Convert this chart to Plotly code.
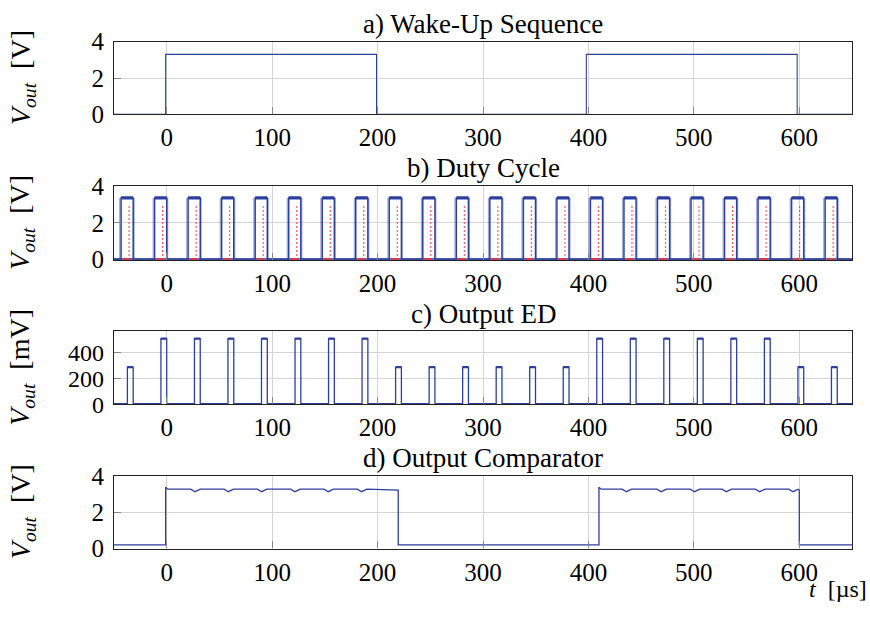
import plotly.graph_objects as go

# ---------------- data ----------------
x_range = [-50, 650]
x_ticks = [0, 100, 200, 300, 400, 500, 600]

# a) Wake-Up Sequence (t in µs, V)
wake_t = [-50, -1, -1, 199, 199, 398, 398, 598, 598, 650]
wake_v = [0, 0, 3.3, 3.3, 0, 0, 3.3, 3.3, 0, 0]

# b) Duty Cycle: rising-edge times of the pulses (µs)
duty_rise = [-43.3, -11.5, 20.3, 52.1, 83.9, 115.7, 147.5, 179.3, 211.1, 242.9, 274.7,
             306.5, 338.3, 370.1, 401.9, 433.7, 465.5, 497.3, 529.1, 560.9, 592.7, 624.5]
duty_width = 11.5      # µs
duty_high = 3.36       # V
duty_low = 0.03        # V
red_delay = 7.6        # µs after rising edge
red_top = 3.0          # V

# c) Output ED: pulse amplitudes (mV), one per duty-cycle pulse
ed_amp = [285, 505, 505, 505, 505, 505, 505, 505, 285, 285, 285, 285, 285, 285,
          505, 505, 505, 505, 505, 505, 285, 285]
ed_start = 6.0         # µs after duty rising edge
ed_stop = 11.5         # µs after duty rising edge
ed_base = 4            # mV

# d) Output Comparator
comp_edges = [-1, 219.6, 410, 600]
comp_high = 3.27
comp_low = 0.2
comp_dips = [26.8, 58.4, 90.0, 121.6, 153.2, 184.8, 436.0, 469.0, 500.6, 530.8, 562.4, 594.0]
comp_dip_v = 3.13

titles = ["a) Wake-Up Sequence", "b) Duty Cycle", "c) Output ED", "d) Output Comparator"]
y_units = ["[V]", "[V]", "[mV]", "[V]"]
y_ranges = [[0, 4], [0, 4], [0, 560], [0, 4]]
y_ticks = [[0, 2, 4], [0, 2, 4], [0, 200, 400], [0, 2, 4]]

# ---------------- styles ----------------
BLUE = "#2c3f9e"
LIGHTBLUE = "rgba(44,63,158,0.45)"
RED = "#ff2a2a"
FONT = "Liberation Serif"
FS = 25
W, H = 870, 619
px_left, px_right = 114, 852
panels_px = [(30, 106), (181, 258), (333, 409), (484, 560)]

fig = go.Figure()

def add(x, y, axis, color=BLUE, width=1.2, dash=None):
    fig.add_trace(go.Scatter(x=x, y=y, mode="lines", xaxis="x" if axis == 1 else f"x{axis}",
                             yaxis="y" if axis == 1 else f"y{axis}",
                             line=dict(color=color, width=width, dash=dash),
                             hoverinfo="skip", showlegend=False))

# a)
add(wake_t, wake_v, 1, width=1.1)

# b)
bx, by = [x_range[0]], [duty_low]
top_x, top_y, edge_x, edge_y = [], [], [], []
rx, ry, rbx, rby = [], [], [], []
for r in duty_rise:
    f = r + duty_width
    bx += [r, r, f, f]
    by += [duty_low, duty_high, duty_high, duty_low]
    top_x += [r, f, None]
    top_y += [duty_high, duty_high, None]
    edge_x += [r - 1.3, r - 1.3, None, f + 0.9, f + 0.9, None]
    edge_y += [duty_low, duty_high, None, duty_low, duty_high, None]
    m = r + red_delay
    rx += [m, m, None]
    ry += [0, red_top, None]
    rbx += [r + 1.5, m + 1, None]
    rby += [0.02, 0.02, None]
bx.append(x_range[1]); by.append(duty_low)
add(edge_x, edge_y, 2, color=LIGHTBLUE, width=1.2)
add(bx, by, 2, width=1.5)
add(top_x, top_y, 2, width=3.2)
add([x_range[0], x_range[1]], [0.02, 0.02], 2, width=2.5)
add(rx, ry, 2, color=RED, width=1.2, dash="1.5px,2.5px")
add(rbx, rby, 2, color=RED, width=2.5)

# c)
cx, cy = [x_range[0]], [ed_base]
ctop_x, ctop_y = [], []
for r, a in zip(duty_rise, ed_amp):
    s, e = r + ed_start, r + ed_stop
    cx += [s, s, e, e]
    cy += [ed_base, a, a, ed_base]
    ctop_x += [s, e, None]
    ctop_y += [a, a, None]
cx.append(x_range[1]); cy.append(ed_base)
add(cx, cy, 3, width=1.3)
add(ctop_x, ctop_y, 3, width=2.4)

# d)
dx, dy = [x_range[0], comp_edges[0], comp_edges[0]], [comp_low, comp_low, comp_high + 0.1]
segs = [(comp_edges[0], comp_edges[1]), (comp_edges[2], comp_edges[3])]
for i, (s, e) in enumerate(segs):
    if i == 1:
        dx += [s, s]
        dy += [comp_low, comp_high + 0.1]
    dx += [s + 2]
    dy += [comp_high]
    for t in comp_dips:
        if s < t < e:
            dx += [t - 4, t, t + 5]
            dy += [comp_high, comp_dip_v, comp_high]
    dx += [e, e]
    dy += [comp_high - 0.05, comp_low]
dx.append(x_range[1]); dy.append(comp_low)
add(dx, dy, 4, width=1.3)

# ---------------- layout ----------------
layout = dict(width=W, height=H, margin=dict(l=0, r=0, t=0, b=0),
              paper_bgcolor="white", plot_bgcolor="white",
              font=dict(family=FONT, size=FS, color="black"))
annotations = []
for i, (top, bot) in enumerate(panels_px):
    n = i + 1
    xa = "xaxis" if n == 1 else f"xaxis{n}"
    ya = "yaxis" if n == 1 else f"yaxis{n}"
    ydom = [1 - bot / H, 1 - top / H]
    layout[xa] = dict(domain=[px_left / W, px_right / W], range=x_range, tickvals=x_ticks,
                      anchor="y" if n == 1 else f"y{n}",
                      showgrid=True, gridcolor="#d4d4d4", gridwidth=1,
                      showline=True, linecolor="#222", linewidth=1.2, mirror=True,
                      ticks="inside", ticklen=7, tickcolor="#888", tickwidth=1,
                      ticklabelstandoff=1, zeroline=False,
                      tickfont=dict(family=FONT, size=FS))
    layout[ya] = dict(domain=ydom, range=y_ranges[i], tickvals=y_ticks[i],
                      anchor="x" if n == 1 else f"x{n}",
                      showgrid=True, gridcolor="#d4d4d4", gridwidth=1,
                      showline=True, linecolor="#222", linewidth=1.2, mirror=True,
                      ticks="inside", ticklen=7, tickcolor="#888", tickwidth=1,
                      ticklabelstandoff=4, zeroline=False,
                      tickfont=dict(family=FONT, size=24 if n == 3 else FS))
    annotations.append(dict(text=titles[i], x=(px_left + px_right) / 2 / W, y=1 - (top - 1) / H,
                            xref="paper", yref="paper", xanchor="center", yanchor="bottom",
                            showarrow=False, font=dict(family=FONT, size=27)))
    annotations.append(dict(text="<i>V</i><sub><i>out</i></sub>  " + y_units[i],
                            x=22 / W, y=1 - (top + bot) / 2 / H, xref="paper", yref="paper",
                            xanchor="center", yanchor="middle", textangle=-90,
                            showarrow=False, font=dict(family=FONT, size=28)))
annotations.append(dict(text="<i>t</i>  [µs]", x=868 / W, y=2 / H, xref="paper", yref="paper",
                        xanchor="right", yanchor="bottom", showarrow=False, borderpad=0,
                        font=dict(family=FONT, size=24)))
layout["annotations"] = annotations
fig.update_layout(**layout)
fig.write_html("out.html")
